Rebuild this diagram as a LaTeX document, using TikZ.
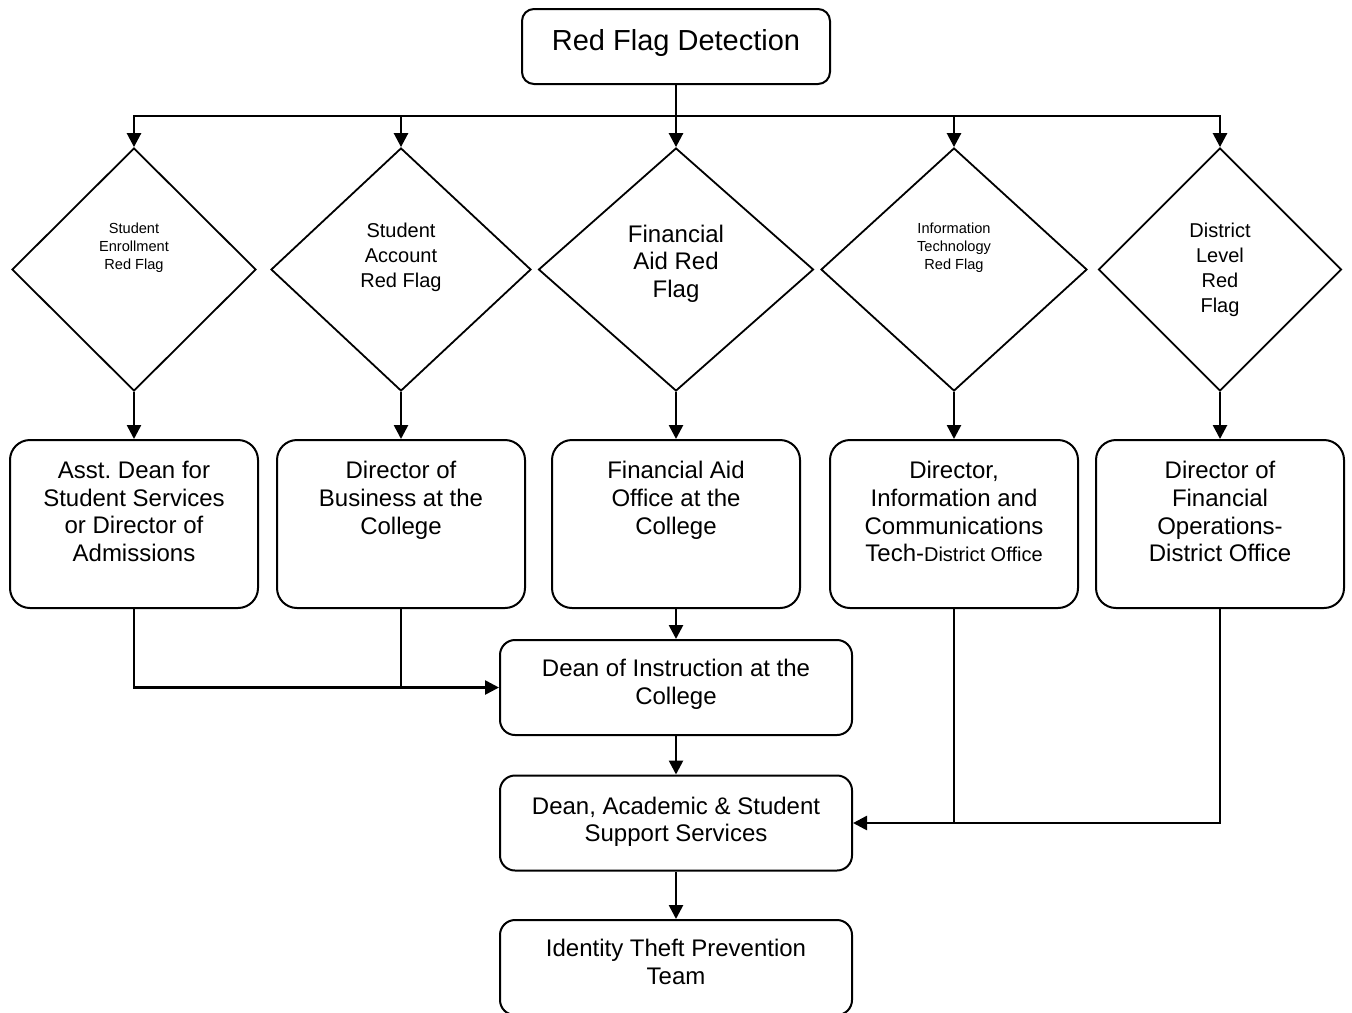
\documentclass[tikz,border=0pt]{standalone}
\usepackage{fontspec}
\setmainfont{Liberation Sans}
\frenchspacing
\usetikzlibrary{arrows.meta,shapes.geometric}

\begin{document}
\begin{tikzpicture}[x=0.5pt,y=-0.5pt,>={Triangle[length=7pt,width=7pt]},
    box/.style={draw,line width=1pt,rounded corners=10pt,inner sep=0pt},
    rowbox/.style={box,minimum width=124pt,minimum height=84pt},
    deanbox/.style={box,rounded corners=7.5pt,minimum width=176pt,minimum height=47.5pt},
    flag/.style={draw,diamond,line width=0.9pt,inner sep=0pt,minimum height=121.5pt},
    boxtext/.style={anchor=north,align=center,inner sep=0pt,font=\fontsize{12}{13.8}\selectfont},
    flagtext/.style={align=center,inner sep=0pt},
    small/.style={font=\fontsize{7.3}{9}\selectfont},
    medium/.style={font=\fontsize{10}{12.5}\selectfont},
    large/.style={font=\fontsize{12}{13.8}\selectfont},
    link/.style={line width=1.3pt}]
  \useasboundingbox (0,0) rectangle (1352,1012);

  % top
  \node[box,rounded corners=6pt,minimum width=154pt,minimum height=37.5pt,
    label={[boxtext,font=\fontsize{14.5}{17}\selectfont,yshift=-10.5pt]north:Red Flag Detection}]
    (top) at (676,46.5) {};
  \coordinate (bus) at (676,116);

  % red flags
  \node[flag,minimum width=122pt,label={[flagtext,small,yshift=11pt]center:Student\\Enrollment\\Red Flag}] (d1) at (134,269.5) {};
  \node[flag,minimum width=130pt,label={[flagtext,medium,yshift=6pt]center:Student\\Account\\Red Flag}] (d2) at (401,269.5) {};
  \node[flag,minimum width=137.5pt,label={[flagtext,large,yshift=3pt]center:Financial\\Aid Red\\Flag}] (d3) at (676,269.5) {};
  \node[flag,minimum width=133pt,label={[flagtext,small,yshift=11pt]center:Information\\Technology\\Red Flag}] (d4) at (954,269.5) {};
  \node[flag,minimum width=121.5pt,label={[flagtext,medium]center:District\\Level\\Red\\Flag}] (d5) at (1220,269.5) {};

  % offices
  \node[rowbox,label={[boxtext,yshift=-11pt]north:Asst. Dean for\\Student Services\\or Director of\\Admissions}] (b1) at (134,524) {};
  \node[rowbox,label={[boxtext,yshift=-11pt]north:Director of\\Business at the\\College}] (b2) at (401,524) {};
  \node[rowbox,label={[boxtext,yshift=-11pt]north:Financial Aid\\Office at the\\College}] (b3) at (676,524) {};
  \node[rowbox,label={[boxtext,yshift=-11pt]north:Director,\\Information and\\Communications\\Tech-{\fontsize{10}{12}\selectfont District Office}}] (b4) at (954,524) {};
  \node[rowbox,label={[boxtext,yshift=-11pt]north:Director of\\Financial\\Operations-\\District Office}] (b5) at (1220,524) {};

  % deans and team
  \node[deanbox,label={[boxtext,yshift=-10pt]north:Dean of Instruction at the\\College}] (dean1) at (676,687.5) {};
  \node[deanbox,label={[boxtext,yshift=-11pt]north:Dean, Academic \& Student\\Support Services}] (dean2) at (676,823) {};
  \node[deanbox,label={[boxtext,yshift=-10pt]north:Identity Theft Prevention\\Team}] (team) at (676,967.5) {};

  \draw[link] (top) -- (bus);
  \draw[link,line cap=rect] (bus -| d1.north) -- (bus -| d5.north);
  \foreach \n in {1,...,5} {
    \draw[link,->] (bus -| d\n.north) -- (d\n.north);
    \draw[link,->] (d\n.south) -- (b\n.north);
  }
  \draw[link,->] (b3) -- (dean1);
  \draw[link,->] (b1.south) |- (dean1.west);
  \draw[link] (b2.south) -- (b2.south |- dean1.west);
  \draw[link,->] (dean1) -- (dean2);
  \draw[link,->] (b4.south) |- (dean2.east);
  \draw[link] (b5.south) |- (b4.south |- dean2.east);
  \draw[link,->] (dean2) -- (team);
\end{tikzpicture}
\end{document}
